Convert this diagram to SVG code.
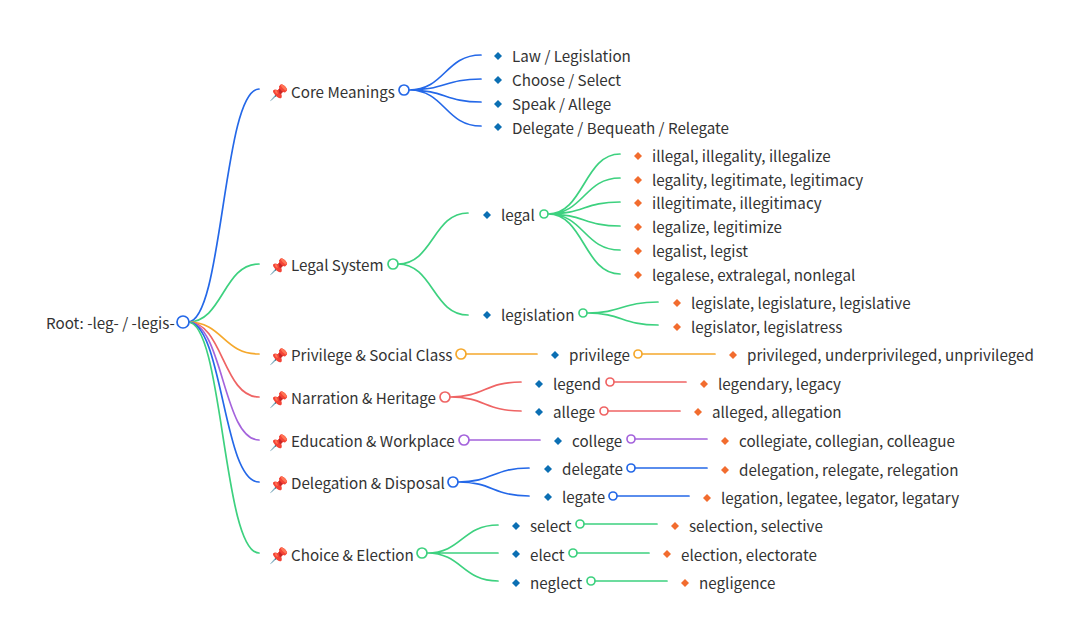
<svg xmlns="http://www.w3.org/2000/svg" width="1080" height="637" viewBox="0 0 1080 637">
<style>
text{font-family:"Noto Sans CJK SC","Noto Sans",sans-serif;font-size:15.2px;fill:#333;dominant-baseline:central;transform:translateY(-1px)}
.l{fill:none;stroke-width:1.7;stroke-linecap:round}
.c{fill:#fff;stroke-width:1.7}
.blue{stroke:#2468e8}.green{stroke:#3dd17f}.orange{stroke:#f5a82c}.red{stroke:#ef6464}.purple{stroke:#a463dc}
.d1{fill:#0b6fb3}.d2{fill:#f26c2e}
.p{font-size:15.5px}
</style>
<defs>
<path id="d1" class="d1" d="M0-4L4 0L0 4L-4 0Z"/>
<path id="d2" class="d2" d="M0-4L4 0L0 4L-4 0Z"/>
</defs>
<g id="connectors">
<path class="l blue" d="M188 322C223 322 223 89 259 89"/>
<path class="l green" d="M188 322C223 322 223 264 259 264"/>
<path class="l orange" d="M188 322C223 322 223 354 259 354"/>
<path class="l red" d="M188 322C223 322 223 397 259 397"/>
<path class="l purple" d="M188 322C223 322 223 440 259 440"/>
<path class="l blue" d="M188 322C223 322 223 482 259 482"/>
<path class="l green" d="M188 322C223 322 223 553 259 553"/>
<path class="l blue" d="M409 90C445 90 445 55 481 55M409 90C445 90 445 79 481 79M409 90C445 90 445 102 481 102M409 90C445 90 445 126 481 126"/>
<path class="l green" d="M398 264C433 264 433 213 468 213M398 264C433 264 433 315 468 315"/>
<path class="l green" d="M548 214C584 214 584 154 620 154M548 214C584 214 584 178 620 178M548 214C584 214 584 202 620 202M548 214C584 214 584 226 620 226M548 214C584 214 584 250 620 250M548 214C584 214 584 274 620 274"/>
<path class="l green" d="M587 313C622 313 622 302 658 302M587 313C622 313 622 325 658 325"/>
<path class="l orange" d="M466 354H537M642 354H715"/>
<path class="l red" d="M450 397C485 397 485 382 521 382M450 397C485 397 485 411 521 411M614 382H686M608 411H680"/>
<path class="l purple" d="M469 440H540M635 439H707"/>
<path class="l blue" d="M458 482C493 482 493 468 529 468M458 482C493 482 493 496 529 496M635 468H707M617 496H689"/>
<path class="l green" d="M427 553C462 553 462 525 498 525M427 553H498M427 553C462 553 462 581 498 581M584 524H657M577 553H649M595 581H667"/>
</g>
<g id="root"><text x="46" y="323">Root: -leg- / -legis-</text><circle class="c blue" cx="183" cy="322" r="6"/></g>
<g id="core"><text class="p" x="269" y="91.500">📌</text><text x="291" y="91.500">Core Meanings</text><circle class="c blue" cx="404" cy="90" r="5"/></g>
<g id="core-1"><use href="#d1" x="498" y="56"/><text x="512" y="56">Law / Legislation</text></g>
<g id="core-2"><use href="#d1" x="498" y="80"/><text x="512" y="80">Choose / Select</text></g>
<g id="core-3"><use href="#d1" x="498" y="104"/><text x="512" y="104">Speak / Allege</text></g>
<g id="core-4"><use href="#d1" x="498" y="127"/><text x="512" y="127.500">Delegate / Bequeath / Relegate</text></g>
<g id="legal-system"><text class="p" x="269" y="265.500">📌</text><text x="291" y="265">Legal System</text><circle class="c green" cx="393" cy="264" r="5"/></g>
<g id="legal"><use href="#d1" x="487" y="215"/><text x="501" y="215">legal</text><circle class="c green" cx="544" cy="214" r="4"/></g>
<g id="legal-1"><use href="#d2" x="638" y="156"/><text x="652" y="156">illegal, illegality, illegalize</text></g>
<g id="legal-2"><use href="#d2" x="638" y="180"/><text x="652" y="180">legality, legitimate, legitimacy</text></g>
<g id="legal-3"><use href="#d2" x="638" y="203"/><text x="652" y="203">illegitimate, illegitimacy</text></g>
<g id="legal-4"><use href="#d2" x="638" y="227"/><text x="652" y="227">legalize, legitimize</text></g>
<g id="legal-5"><use href="#d2" x="638" y="251"/><text x="652" y="251">legalist, legist</text></g>
<g id="legal-6"><use href="#d2" x="638" y="275"/><text x="652" y="275">legalese, extralegal, nonlegal</text></g>
<g id="legislation"><use href="#d1" x="487" y="315"/><text x="501" y="315">legislation</text><circle class="c green" cx="583" cy="313" r="4"/></g>
<g id="legislation-1"><use href="#d2" x="677" y="303"/><text x="691" y="303">legislate, legislature, legislative</text></g>
<g id="legislation-2"><use href="#d2" x="677" y="327"/><text x="691" y="327">legislator, legislatress</text></g>
<g id="privilege-class"><text class="p" x="269" y="355.500">📌</text><text x="291" y="355">Privilege &amp; Social Class</text><circle class="c orange" cx="461" cy="354" r="5"/></g>
<g id="privilege"><use href="#d1" x="555" y="355"/><text x="569" y="355">privilege</text><circle class="c orange" cx="638" cy="354" r="4"/></g>
<g id="privilege-1"><use href="#d2" x="733" y="355"/><text x="747" y="355">privileged, underprivileged, unprivileged</text></g>
<g id="narration"><text class="p" x="269" y="398.500">📌</text><text x="291" y="398">Narration &amp; Heritage</text><circle class="c red" cx="445" cy="397" r="5"/></g>
<g id="legend"><use href="#d1" x="539" y="384"/><text x="553" y="384">legend</text><circle class="c red" cx="610" cy="382" r="4"/></g>
<g id="legend-1"><use href="#d2" x="704" y="384"/><text x="718" y="384">legendary, legacy</text></g>
<g id="allege"><use href="#d1" x="539" y="412"/><text x="553" y="412">allege</text><circle class="c red" cx="604" cy="411" r="4"/></g>
<g id="allege-1"><use href="#d2" x="698" y="412"/><text x="712" y="412">alleged, allegation</text></g>
<g id="education"><text class="p" x="269" y="441.500">📌</text><text x="291" y="441">Education &amp; Workplace</text><circle class="c purple" cx="464" cy="440" r="5"/></g>
<g id="college"><use href="#d1" x="558" y="441"/><text x="572" y="441">college</text><circle class="c purple" cx="631" cy="439" r="4"/></g>
<g id="college-1"><use href="#d2" x="725" y="441"/><text x="739" y="441">collegiate, collegian, colleague</text></g>
<g id="delegation"><text class="p" x="269" y="483.500">📌</text><text x="291" y="483">Delegation &amp; Disposal</text><circle class="c blue" cx="453" cy="482" r="5"/></g>
<g id="delegate"><use href="#d1" x="548" y="469"/><text x="562" y="469">delegate</text><circle class="c blue" cx="631" cy="468" r="4"/></g>
<g id="delegate-1"><use href="#d2" x="725" y="470"/><text x="739" y="470">delegation, relegate, relegation</text></g>
<g id="legate"><use href="#d1" x="548" y="497"/><text x="562" y="497">legate</text><circle class="c blue" cx="613" cy="496" r="4"/></g>
<g id="legate-1"><use href="#d2" x="707" y="498"/><text x="721" y="498">legation, legatee, legator, legatary</text></g>
<g id="choice"><text class="p" x="269" y="555">📌</text><text x="291" y="554.500">Choice &amp; Election</text><circle class="c green" cx="422" cy="553" r="5"/></g>
<g id="select"><use href="#d1" x="516" y="526"/><text x="530" y="526">select</text><circle class="c green" cx="580" cy="524" r="4"/></g>
<g id="select-1"><use href="#d2" x="675" y="526"/><text x="689" y="526">selection, selective</text></g>
<g id="elect"><use href="#d1" x="516" y="554"/><text x="530" y="554.500">elect</text><circle class="c green" cx="573" cy="553" r="4"/></g>
<g id="elect-1"><use href="#d2" x="667" y="554"/><text x="681" y="554.500">election, electorate</text></g>
<g id="neglect"><use href="#d1" x="516" y="583"/><text x="530" y="583">neglect</text><circle class="c green" cx="591" cy="581" r="4"/></g>
<g id="neglect-1"><use href="#d2" x="685" y="583"/><text x="699" y="583">negligence</text></g>
</svg>
